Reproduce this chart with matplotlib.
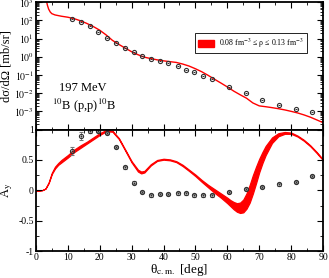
import numpy as np
import matplotlib
matplotlib.use("Agg")
import matplotlib.pyplot as plt
from matplotlib.ticker import MultipleLocator, LogLocator, NullFormatter
from matplotlib.patches import Patch

plt.rcParams['font.family'] = ['Liberation Serif', 'DejaVu Serif']
plt.rcParams['mathtext.fontset'] = 'stix'

# --- cross section data (points) ---
xs_theta = [11.2, 14.0, 16.9, 19.6, 22.3, 25.0, 27.9, 30.6, 33.3, 36.2, 38.8, 41.5,
            44.5, 47.1, 49.7, 52.4, 55.1, 60.6, 65.8, 71.0, 76.3, 81.5, 86.5]
xs_data = [115, 78, 51, 22, 10.5, 5.6, 3.1, 1.8, 1.13, 0.78, 0.56, 0.43,
           0.30, 0.20, 0.14, 0.093, 0.062, 0.023, 0.0097, 0.0044, 0.0022, 0.0013, 0.00089]

# --- cross section calculation ---
xs_calc_theta = [3.2, 3.6, 4.0, 4.5, 5.0, 6.0, 8.0, 10, 12, 14, 16, 18, 20, 22, 24, 26,
                 28, 30, 32, 34, 36, 38, 40, 42, 44, 46, 48, 50, 52, 54, 56, 58, 60,
                 62, 64, 66, 68, 70, 72, 74, 76, 78, 80, 82, 84, 86, 88, 90]
xs_calc = [1500, 700, 420, 290, 235, 200, 170, 150, 125, 95, 68, 46, 29, 16, 8.0, 4.8,
           3.0, 1.9, 1.3, 0.95, 0.80, 0.68, 0.60, 0.54, 0.49, 0.40, 0.31, 0.22, 0.15,
           0.095, 0.058, 0.036, 0.022, 0.013, 0.0082, 0.0053, 0.0029, 0.0020, 0.0018,
           0.0016, 0.0014, 0.0012, 0.0010, 0.00082, 0.00064, 0.00048, 0.00034, 0.00024]

# --- analyzing power data ---
ay_theta = [11.2, 14.0, 16.9, 19.6, 22.3, 25.0, 27.9, 30.6, 33.3, 36.2, 38.8, 41.5,
            44.5, 47.1, 49.7, 52.4, 55.1, 60.6, 65.8, 71.0, 76.3, 81.5, 86.5]
ay_data = [0.65, 0.895, 0.98, 0.98, 0.94, 0.71, 0.38, 0.13, -0.03, -0.08, -0.06, -0.06,
           -0.05, -0.05, -0.08, -0.08, -0.08, -0.03, 0.02, 0.06, 0.10, 0.14, 0.24]
ay_err = [0.06, 0.07, 0.03, 0.02, 0.02, 0.02, 0.02, 0.02, 0.02, 0.02, 0.02, 0.02,
          0.02, 0.02, 0.02, 0.02, 0.02, 0.02, 0.02, 0.02, 0.02, 0.02, 0.02]

# --- analyzing power band (rho = 0.08 .. 0.13 fm^-3) ---
band_theta = [0, 1, 2, 3, 4, 5, 6, 7, 8, 10, 12, 14, 16, 18, 20, 22, 24, 26, 28, 30, 32,
              33, 34, 36, 38, 40, 42, 44, 46, 48, 50, 52, 54, 56, 58, 60, 61, 62, 63, 64,
              65, 66, 67, 68, 69, 70, 71, 72, 74, 76, 78, 80, 82, 84, 86, 88, 90]
band_hi = [0, 0, 0.005, 0.03, 0.13, 0.29, 0.39, 0.45, 0.5, 0.58, 0.67, 0.74, 0.8, 0.87,
           0.94, 0.99, 0.98, 0.86, 0.67, 0.48, 0.34, 0.31, 0.32, 0.43, 0.5, 0.52, 0.51,
           0.48, 0.42, 0.34, 0.26, 0.17, 0.09, 0.02, -0.05, -0.12, -0.16, -0.19, -0.21,
           -0.2, -0.15, -0.05, 0.09, 0.25, 0.39, 0.52, 0.63, 0.73, 0.87, 0.94, 0.96, 0.95,
           0.9, 0.83, 0.74, 0.63, 0.51]
band_lo = [0, 0, 0.005, 0.03, 0.12, 0.27, 0.36, 0.42, 0.46, 0.54, 0.63, 0.7, 0.77, 0.84,
           0.91, 0.97, 0.965, 0.845, 0.655, 0.46, 0.31, 0.28, 0.295, 0.41, 0.485, 0.505,
           0.495, 0.465, 0.4, 0.32, 0.235, 0.14, 0.05, -0.04, -0.12, -0.21, -0.26, -0.31,
           -0.35, -0.37, -0.36, -0.3, -0.2, -0.05, 0.12, 0.3, 0.45, 0.58, 0.78, 0.89,
           0.93, 0.93, 0.885, 0.815, 0.725, 0.615, 0.495]

fig = plt.figure(figsize=(3.29, 2.78), dpi=100)
ax1 = fig.add_axes([0.109, 0.534, 0.873, 0.458])
ax2 = fig.add_axes([0.109, 0.096, 0.873, 0.438], sharex=ax1)

for ax in (ax1, ax2):
    ax.tick_params(which='both', direction='in', top=True, right=True, labelsize=7, pad=1.5)
    ax.tick_params(which='major', length=4, width=0.8)
    ax.tick_params(which='minor', length=2.5, width=0.6)
    for s in ax.spines.values():
        s.set_linewidth(1.3)

# top: cross section
ax1.plot(xs_calc_theta, xs_calc, color='red', lw=1.0)
ax1.plot(xs_theta, xs_data, 'o', mfc='none', mec='#333333', ms=3.0, mew=0.8)
ax1.plot(xs_theta, xs_data, '_', color='#333333', ms=2.0, mew=0.8)
ax1.set_yscale('log')
ax1.set_ylim(1e-4, 1e3)
ax1.set_xlim(0, 90)
ax1.yaxis.set_minor_locator(LogLocator(base=10, subs=np.arange(2, 10), numticks=20))
ax1.yaxis.set_minor_formatter(NullFormatter())
ax1.set_yticks([1e-3, 1e-2, 1e-1, 1, 10, 100, 1000])
ax1.set_yticklabels(['$10^{-3}$', '$10^{-2}$', '$10^{-1}$', '$10^{0}$', '$10^{1}$',
                     '$10^{2}$', '$10^{3}$'])
ax1.xaxis.set_major_locator(MultipleLocator(10))
ax1.xaxis.set_minor_locator(MultipleLocator(5))
plt.setp(ax1.get_xticklabels(), visible=False)
ax1.set_ylabel('dσ/dΩ [mb/sr]', fontsize=9, labelpad=1)

ax1.text(0.08, 0.30, '197 MeV', transform=ax1.transAxes, fontsize=9)
ax1.text(0.055, 0.155, r'$^{10}$B (p,p)$^{10}$B', transform=ax1.transAxes, fontsize=9)

leg = ax1.legend(handles=[Patch(facecolor='red', edgecolor='red',
                                label=r'0.08 fm$^{-3}$ ≤ ρ ≤ 0.13 fm$^{-3}$')],
                 loc='upper left', bbox_to_anchor=(0.555, 0.755), fontsize=5.7,
                 fancybox=False, framealpha=1, edgecolor='black', handlelength=2.0,
                 handleheight=1.0, borderpad=0.4, handletextpad=0.6, borderaxespad=0)
leg.get_frame().set_linewidth(0.6)

# bottom: analyzing power
ax2.fill_between(band_theta, band_lo, band_hi, color='red', lw=0.9, edgecolor='red')
ax2.errorbar(ay_theta, ay_data, yerr=ay_err, fmt='o', mfc='none', mec='#333333',
             ecolor='#777777', ms=3.0, mew=0.8, elinewidth=0.6, capsize=1.2)
ax2.plot(ay_theta, ay_data, '_', color='#333333', ms=2.0, mew=0.8)
ax2.set_ylim(-1, 1)
ax2.yaxis.set_minor_locator(MultipleLocator(0.25))
ax2.set_yticks([-1, -0.5, 0, 0.5, 1])
ax2.set_yticklabels(['-1', '-0.5', '0', '0.5', '1'])
ax2.set_xticks(range(0, 91, 10))
ax2.set_ylabel(r'A$_{\rm y}$', fontsize=9, labelpad=2)
ax2.set_xlabel(r'θ$_{\rm c.m.}$ [deg]', fontsize=9.5, labelpad=0)

fig.savefig('out.png', dpi=100)
